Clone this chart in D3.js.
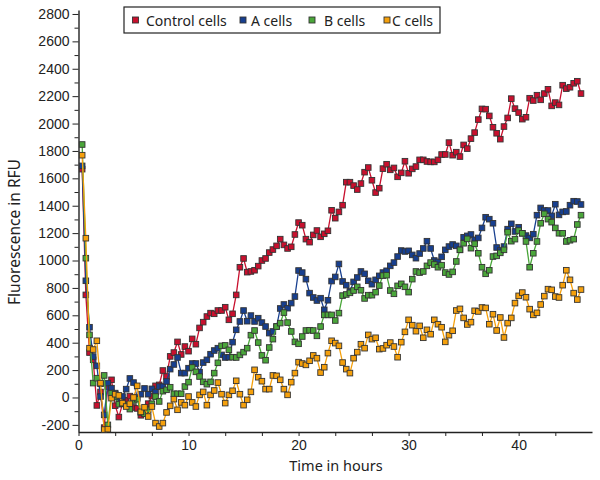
<!DOCTYPE html>
<html><head><meta charset="utf-8">
<script src="https://cdn.jsdelivr.net/npm/d3@7"></script>
<style>
html,body{margin:0;padding:0;background:#fff;}
svg{display:block;font-family:"Noto Sans","Open Sans",sans-serif;}
</style></head>
<body><svg id="chart" width="600" height="480"></svg>
<script>
// Sampling: one reading every 20 minutes (hours)
const sampleStepHours = 1/3;
const seriesNames = ["Control cells", "A cells", "B cells", "C cells"];
const seriesColors = ["#c8102e", "#173f8f", "#4aa63a", "#f5a00c"];
const yTickValues = [-200,0,200,400,600,800,1000,1200,1400,1600,1800,2000,2200,2400,2600,2800];
const xTickLabels = [0,10,20,30,40];

const controlCells = [1667,749,328,275,-58,40,-220,80,129,-60,-143,-45,-20,10,-73,-80,-130,-115,-45,10,85,92,197,153,300,328,406,314,372,338,428,389,508,550,591,
616,611,635,635,659,567,611,749,951,1015,915,920,929,959,1000,1015,1058,1080,1107,1156,1114,1088,1100,1190,1277,1258,1156,1134,1187,1219,1173,1195,1217,1367,
1309,1355,1404,1572,1572,1547,1518,1562,1645,1679,1586,1496,1528,1671,1703,1662,1676,1611,1640,1725,1637,1669,1686,1735,1735,1723,1720,1720,1735,1774,1774,1861,1769,1791,1759,1844,
1817,1890,1934,2029,2107,2105,2056,1973,1929,1886,1978,2041,2182,2109,2080,2032,2046,2185,2168,2207,2173,2219,2250,2129,2153,2136,2280,2255,2265,2294,2309,2219];

const aCells = [1691,852,513,299,231,7,-127,105,68,32,-5,7,61,139,109,0,24,66,24,63,39,80,80,117,207,241,292,178,178,214,248,248,
185,255,275,316,343,360,311,292,294,404,494,555,635,557,598,555,579,547,518,470,482,518,650,679,652,689,737,927,912,864,762,730,708,725,640,710,850,
880,975,847,820,774,844,876,920,903,852,827,859,888,912,925,961,985,1029,1073,1066,1071,1041,1017,1051,1088,1141,1088,1000,990,1027,1078,1102,1117,
1107,1078,1170,1180,1190,1151,1165,1238,1316,1302,1272,1095,1073,1102,1229,1268,1212,1243,1199,1182,1165,1192,1331,1384,1365,1365,1326,1411,1333,1355,1358,1404,1433,1431,1409];

const bCells = [1847,1017,457,105,141,100,161,-200,32,7,-49,-46,-54,-85,-22,-12,-109,-119,-90,-46,7,-29,46,56,75,27,27,27,80,112,219,187,
153,114,97,114,178,253,377,380,348,294,292,311,331,360,455,489,401,307,272,365,426,518,543,620,547,482,406,392,445,489,491,489,450,518,603,603,603,562,616,
744,752,764,781,808,783,723,747,747,769,817,890,893,781,757,815,830,808,769,864,920,912,920,961,985,971,951,966,912,898,917,
993,1078,1126,1158,1090,1122,1053,951,903,929,1029,1034,1056,1078,1207,1141,1156,1219,1199,1139,951,1053,1139,1272,1341,1302,1280,1238,1199,1199,1139,1148,1156,1263,1331];

const cCells = [1769,1163,360,350,414,105,-234,-231,-5,24,15,-41,-66,-46,0,85,-105,-71,-139,-66,-187,-212,-187,-109,-61,-12,-90,-36,-56,7,-36,-66,
19,41,-56,19,51,109,24,-41,19,49,122,24,-56,-17,41,202,148,119,61,61,161,158,129,61,19,112,178,258,248,238,268,307,287,182,221,
324,414,397,377,255,207,178,287,331,389,360,457,426,436,353,358,382,401,372,294,404,479,567,528,484,523,436,494,462,567,535,513,406,455,487,
635,647,581,533,550,633,628,657,654,535,608,489,584,438,543,581,689,742,766,732,645,603,618,679,740,791,786,737,730,820,929,859,762,715,788];

const allSeries = [controlCells, aCells, bCells, cCells];

const svg = d3.select("#chart");
const x = d3.scaleLinear().domain([0, 140/3]).range([78.5, 592]);
const y = d3.scaleLinear().domain([-252, 2829]).range([432, 10]);

// axes
const xTicks = d3.range(0, 14).map(k => k*10/3);
const xAxis = d3.axisBottom(x).tickValues(xTicks).tickSize(4).tickSizeOuter(0)
  .tickFormat(d => { const r = Math.round(d); return (Math.abs(d - r) < 1e-6 && xTickLabels.includes(r)) ? String(r) : ""; });
const gx = svg.append("g").attr("transform","translate(0,432)").call(xAxis);
gx.selectAll("text").attr("font-size",14).attr("fill","#222").attr("dy","0.95em").attr("y",5);

const yMinor = d3.range(-100, 2800, 200);
const gyMinor = svg.append("g").attr("transform","translate(78.5,0)")
  .call(d3.axisLeft(y).tickValues(yMinor).tickSize(4).tickFormat(""));
gyMinor.select(".domain").remove();
const gy = svg.append("g").attr("transform","translate(78.5,0)")
  .call(d3.axisLeft(y).tickValues(yTickValues).tickSize(6).tickSizeOuter(0).tickFormat(d => String(d)));
gy.selectAll("text").attr("font-size",14).attr("fill","#222").attr("x",-9);
svg.selectAll(".domain").attr("stroke","#222").attr("stroke-width",1.4);
svg.selectAll(".tick line").attr("stroke","#222").attr("stroke-width",1);

svg.append("text").attr("x",336).attr("y",471).attr("text-anchor","middle")
  .attr("font-size",14.5).attr("fill","#222").text("Time in hours");
svg.append("text").attr("transform","translate(20,232) rotate(-90)").attr("text-anchor","middle")
  .attr("font-size",15.5).attr("fill","#222").text("Fluorescence in RFU");

// series
const line = d3.line().x((d,i) => x((i+1)*sampleStepHours)).y(d => y(d));
allSeries.forEach((vals, s) => {
  const g = svg.append("g");
  g.append("path").datum(vals).attr("d", line).attr("fill","none")
    .attr("stroke", seriesColors[s]).attr("stroke-width",1.3);
  g.selectAll("rect").data(vals).join("rect")
    .attr("x",(d,i) => x((i+1)*sampleStepHours) - 2.8)
    .attr("y", d => y(d) - 2.8)
    .attr("width",5.6).attr("height",5.6)
    .attr("fill", seriesColors[s]).attr("stroke","#333").attr("stroke-width",0.9);
});

// legend
const lg = svg.append("g");
lg.append("rect").attr("x",124).attr("y",7).attr("width",316).attr("height",26)
  .attr("fill","#fff").attr("stroke","#222").attr("stroke-width",1.2);
const legX = [[132.5,146],[240,251],[309,324],[384,392]];
seriesNames.forEach((n, s) => {
  lg.append("rect").attr("x",legX[s][0]).attr("y",17).attr("width",6).attr("height",6)
    .attr("fill",seriesColors[s]).attr("stroke","#333").attr("stroke-width",0.9);
  lg.append("text").attr("x",legX[s][1]).attr("y",25.5).attr("font-size",14).attr("fill","#222").text(n);
});
</script></body></html>
